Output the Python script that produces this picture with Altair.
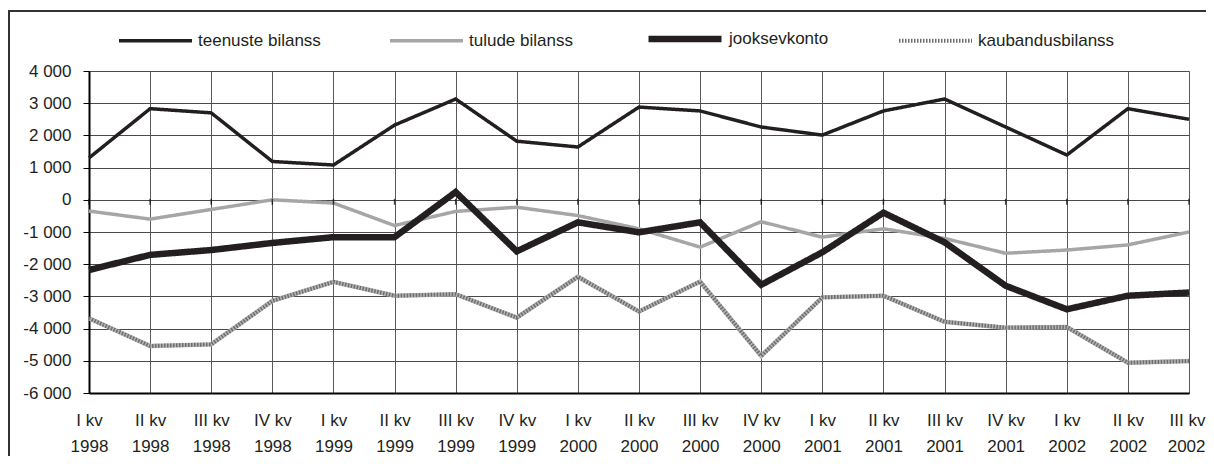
import altair as alt
import pandas as pd

quarters = [
    "I kv|1998", "II kv|1998", "III kv|1998", "IV kv|1998",
    "I kv|1999", "II kv|1999", "III kv|1999", "IV kv|1999",
    "I kv|2000", "II kv|2000", "III kv|2000", "IV kv|2000",
    "I kv|2001", "II kv|2001", "III kv|2001", "IV kv|2001",
    "I kv|2002", "II kv|2002", "III kv|2002",
]
series_names = ["teenuste bilanss", "tulude bilanss", "jooksevkonto", "kaubandusbilanss"]
teenuste = [1300, 2830, 2700, 1190, 1080, 2320, 3130, 1820, 1640, 2880, 2760, 2260, 2010, 2760, 3130, 2260, 1390, 2830, 2500]
tulude = [-350, -600, -300, 0, -100, -800, -360, -230, -490, -900, -1470, -680, -1160, -900, -1200, -1660, -1560, -1400, -1000]
jooksev = [-2180, -1710, -1560, -1340, -1160, -1160, 240, -1600, -700, -1010, -700, -2640, -1630, -400, -1320, -2670, -3400, -2980, -2880]
kaubandus = [-3680, -4540, -4490, -3140, -2550, -2980, -2930, -3660, -2390, -3470, -2540, -4850, -3030, -2980, -3790, -3970, -3950, -5060, -5010]
y_ticks = [-6000, -5000, -4000, -3000, -2000, -1000, 0, 1000, 2000, 3000, 4000]

rows = []
for k, (name, vals) in enumerate(zip(series_names, [teenuste, tulude, jooksev, kaubandus])):
    for q, v in zip(quarters, vals):
        rows.append({"kvartal": q, "seeria": name, "väärtus": v, "ord": k})
df = pd.DataFrame(rows)
df_k = df[df["seeria"] == "kaubandusbilanss"]
df_q = pd.DataFrame({"kvartal": quarters, "null": [0] * len(quarters)})

FONT = "Liberation Sans"
TXT = "#231f20"
last_test = "datum.value === '" + quarters[-1] + "'"

x_axis = alt.Axis(labelExpr="split(datum.label, '|')", labelAngle=0,
                  labelFontSize=17, labelFont=FONT, labelColor=TXT,
                  labelLineHeight=26, labelPadding=19, ticks=False,
                  labelAlign={"condition": {"test": last_test, "value": "right"}, "value": "center"},
                  labelOffset={"condition": {"test": last_test, "value": 16}, "value": 0},
                  grid=True, gridColor="#5a5a5a", gridWidth=1,
                  domainColor="#000", domainWidth=2, labelBaseline="top")
x_scale = alt.Scale(type="point", padding=0)
y_axis = alt.Axis(values=y_ticks, tickCount=40, labelOverlap=False,
                  labelExpr="(datum.value < 0 ? '-' : '') + replace(format(abs(datum.value), ','), ',', ' ')",
                  labelFontSize=17, labelFont=FONT, labelColor=TXT,
                  tickSize=6, tickColor="#000", tickWidth=1, labelPadding=12,
                  grid=True, gridColor="#4a4a4a", gridWidth=1,
                  domainColor="#000", domainWidth=2)
y_scale = alt.Scale(domain=[-6000, 4000], nice=False, zero=False)


def X():
    return alt.X("kvartal:N", sort=quarters, title=None, scale=x_scale, axis=x_axis)


def Y(field="väärtus:Q"):
    return alt.Y(field, title=None, scale=y_scale, axis=y_axis)


def make_legend():
    return alt.Legend(orient="none", legendX=28, legendY=-72, direction="horizontal",
                      title=None, symbolType="stroke", symbolSize=73 * 73,
                      labelFontSize=17, labelFont=FONT, labelColor=TXT,
                      columnPadding=62, labelOffset=4, labelLimit=300)


# light under-layer that gives the trade balance line its speckled look
texture = alt.Chart(df_k).mark_line(color="#b4b4b4", strokeWidth=4.5).encode(
    x=X(),
    y=Y(),
)

lines = alt.Chart(df).mark_line(strokeJoin="miter", strokeCap="butt").encode(
    x=X(),
    y=Y(),
    color=alt.Color("seeria:N", sort=series_names, title=None,
                    scale=alt.Scale(type="ordinal", domain=series_names,
                                    range=["#231f20", "#a6a6a6", "#231f20", "#6e6e6e"]),
                    legend=make_legend()),
    strokeWidth=alt.StrokeWidth("seeria:N", sort=series_names, title=None,
                                scale=alt.Scale(type="ordinal", domain=series_names, range=[3.5, 3.5, 6.5, 4]),
                                legend=make_legend()),
    strokeDash=alt.StrokeDash("seeria:N", sort=series_names, title=None,
                              scale=alt.Scale(type="ordinal", domain=series_names,
                                              range=[[1, 0], [1, 0], [1, 0], [1.5, 1.5]]),
                              legend=make_legend()),
    order=alt.Order("ord:Q"),
)

zero_ticks = alt.Chart(df_q).mark_tick(color="#000", thickness=1.5, size=6, orient="vertical", yOffset=2).encode(
    x=X(),
    y=Y("null:Q"),
)

frame_top = alt.Chart(df_q).mark_rule(color="#333", strokeWidth=1.5).encode(
    x=alt.value(-81), x2=alt.value(1117), y=alt.value(-60))
frame_left = alt.Chart(df_q).mark_rule(color="#333", strokeWidth=1.5).encode(
    x=alt.value(-80.2), y=alt.value(-60), y2=alt.value(400))

chart = alt.layer(texture, lines, zero_ticks, frame_top, frame_left).properties(
    width=1100, height=322,
    autosize=alt.AutoSizeParams(type="none"),
    padding={"left": 81, "top": 63, "right": 17, "bottom": 63},
).configure_view(stroke="#000", strokeWidth=1.5).configure(background="white")

chart.save("out.html", embed_options={"renderer": "svg", "actions": False})
